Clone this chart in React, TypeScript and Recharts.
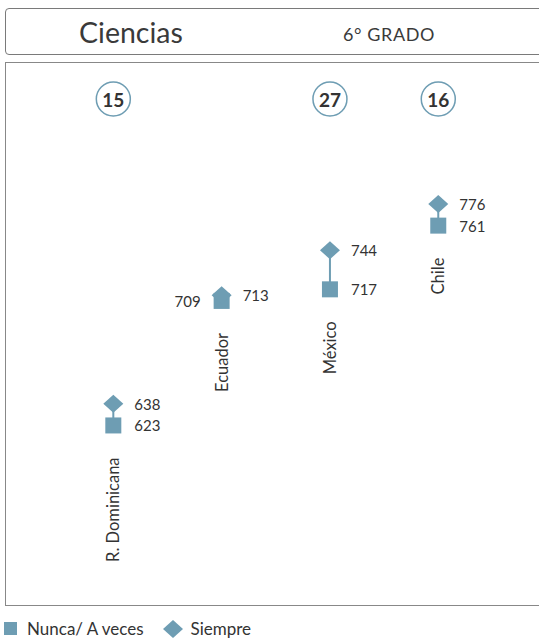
import { ComposedChart, Scatter, XAxis, YAxis, ReferenceLine } from "recharts";

const paises = ["R. Dominicana", "Ecuador", "México", "Chile"];
const nuncaAVeces = [623, 709, 717, 761];
const siempre = [638, 713, 744, 776];
const brecha = ["15", "", "27", "16"];

const COLOR = "#6e9db3";
const TEXT = "#333";
const FONT = "Lato, 'Open Sans', sans-serif";

const data = paises.map((pais, i) => ({
  idx: i,
  pais,
  nunca: nuncaAVeces[i],
  siempre: siempre[i],
  brecha: brecha[i],
}));

const SquareShape = (props: any) => {
  const { cx, cy, payload } = props;
  // when both markers overlap, the lower value goes to the left
  const close = Math.abs(payload.siempre - payload.nunca) < 10;
  return (
    <g>
      <rect x={cx - 8} y={cy - 8} width={16} height={16} fill={COLOR} />
      <text
        x={close ? cx - 21 : cx + 21}
        y={cy}
        textAnchor={close ? "end" : "start"}
        dominantBaseline="central"
        fontSize={15}
        fill={TEXT}
        fontFamily={FONT}
      >
        {payload.nunca}
      </text>
      <text
        transform={`translate(${cx},${cy + 32}) rotate(-90)`}
        textAnchor="end"
        dominantBaseline="central"
        fontSize={16.5}
        fill={TEXT}
        fontFamily={FONT}
      >
        {payload.pais}
      </text>
    </g>
  );
};

const DiamondShape = (props: any) => {
  const { cx, cy, payload } = props;
  return (
    <g>
      <path d={`M${cx},${cy - 9}L${cx + 10},${cy}L${cx},${cy + 9}L${cx - 10},${cy}Z`} fill={COLOR} />
      <text
        x={cx + 21}
        y={cy}
        dominantBaseline="central"
        fontSize={15}
        fill={TEXT}
        fontFamily={FONT}
      >
        {payload.siempre}
      </text>
    </g>
  );
};

const Badge = (props: any) => {
  const { viewBox, value } = props;
  if (!value || !viewBox) return null;
  const cx = viewBox.x;
  const cy = viewBox.y + 37;
  return (
    <g>
      <circle cx={cx} cy={cy} r={17} fill="#fff" stroke={COLOR} strokeWidth={1.5} />
      <text
        x={cx}
        y={cy}
        textAnchor="middle"
        dominantBaseline="central"
        fontSize={19}
        fontWeight={700}
        fill={TEXT}
        fontFamily={FONT}
      >
        {value}
      </text>
    </g>
  );
};

export default function App() {
  return (
    <div style={{ position: "absolute", left: 0, top: 0, width: 539, height: 639, overflow: "hidden", background: "#fff", fontFamily: FONT }}>
      <div style={{ position: "absolute", left: 5, top: 8, width: 545, height: 45, border: "1px solid #7a7a7a", borderRadius: 4 }}>
        <span style={{ position: "absolute", left: 73, top: 6, fontSize: 28.5, color: "#3a3a3a" }}>Ciencias</span>
        <span style={{ position: "absolute", left: 337, top: 14, fontSize: 18, letterSpacing: 0.6, color: "#3a3a3a" }}>6° GRADO</span>
      </div>
      <div style={{ position: "absolute", left: 5, top: 62, width: 545, height: 542, border: "1px solid #888" }} />
      <div style={{ position: "absolute", left: 0, top: 0 }}>
        <ComposedChart width={539} height={639} data={data} margin={{ top: 62, right: 0, bottom: 34, left: 5 }}>
          <XAxis type="number" dataKey="idx" hide domain={[-1, 3.93]} allowDataOverflow />
          <YAxis type="number" hide domain={[499, 874]} allowDataOverflow />
          {data.map((d) => (
            <ReferenceLine
              key={`b-${d.pais}`}
              x={d.idx}
              stroke="none"
              label={<Badge value={d.brecha} />}
            />
          ))}
          {data.map((d) => (
            <ReferenceLine
              key={d.pais}
              segment={[{ x: d.idx, y: d.nunca }, { x: d.idx, y: d.siempre }]}
              stroke={COLOR}
              strokeWidth={2}
            />
          ))}
          <Scatter dataKey="nunca" name="Nunca/ A veces" shape={<SquareShape />} isAnimationActive={false} />
          <Scatter dataKey="siempre" name="Siempre" shape={<DiamondShape />} isAnimationActive={false} />
        </ComposedChart>
      </div>
      <div style={{ position: "absolute", left: 4, top: 618, display: "flex", alignItems: "center", fontSize: 17, color: TEXT }}>
        <svg width={13} height={13} style={{ marginRight: 10 }}>
          <rect width={13} height={13} fill={COLOR} />
        </svg>
        <span>Nunca/ A veces</span>
        <svg width={20} height={18} style={{ marginLeft: 19, marginRight: 8 }}>
          <path d="M10,0L20,9L10,18L0,9Z" fill={COLOR} />
        </svg>
        <span>Siempre</span>
      </div>
    </div>
  );
}
